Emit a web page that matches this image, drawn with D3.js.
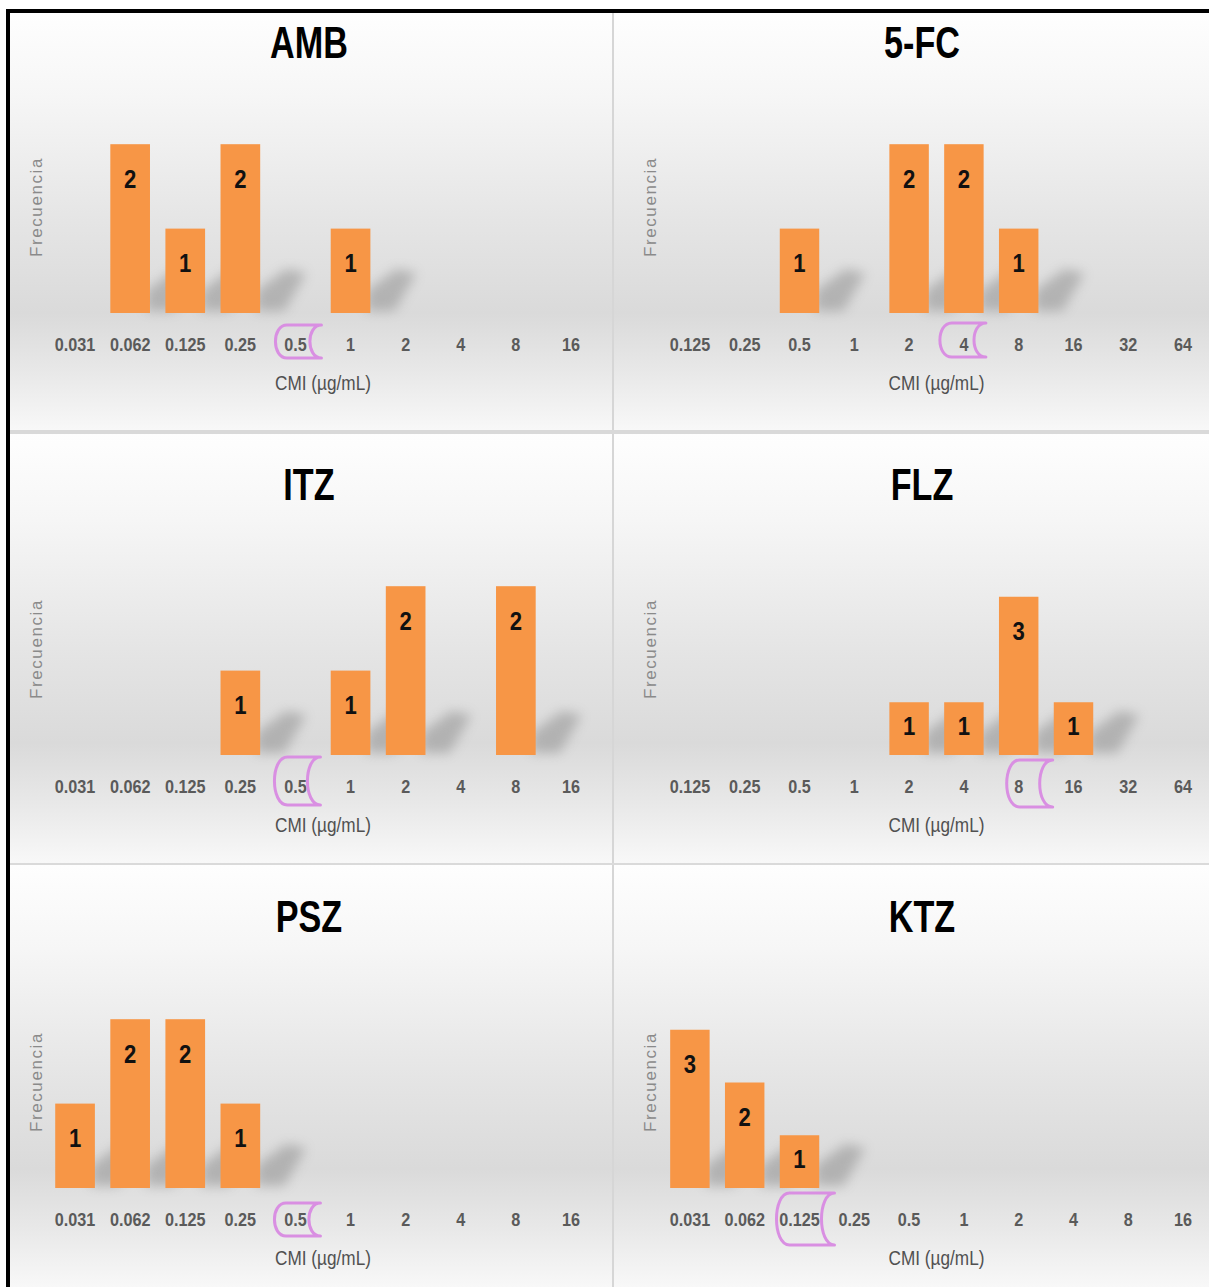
<!DOCTYPE html>
<html><head><meta charset="utf-8">
<script src="https://cdn.jsdelivr.net/npm/d3@7"></script>
<style>body{margin:0;background:#fff}svg{display:block}</style>
</head><body>
<svg id="c" width="1209" height="1287"></svg>
<script>
// ---------- data ----------
const panelTitles = ["AMB", "5-FC", "ITZ", "FLZ", "PSZ", "KTZ"];
const catsLow  = ["0.031","0.062","0.125","0.25","0.5","1","2","4","8","16"];
const catsHigh = ["0.125","0.25","0.5","1","2","4","8","16","32","64"];
const panelCats = [catsLow, catsHigh, catsLow, catsHigh, catsLow, catsLow];
const ambCounts = [0,2,1,2,0,1,0,0,0,0];
const fcCounts  = [0,0,1,0,2,2,1,0,0,0];
const itzCounts = [0,0,0,1,0,1,2,0,2,0];
const flzCounts = [0,0,0,0,1,1,3,1,0,0];
const pszCounts = [1,2,2,1,0,0,0,0,0,0];
const ktzCounts = [3,2,1,0,0,0,0,0,0,0];
const panelCounts = [ambCounts, fcCounts, itzCounts, flzCounts, pszCounts, ktzCounts];
const breakpoints = ["0.5","4","0.5","8","0.5","0.125"];
const yMaxes = [2.5, 2.5, 2.5, 4, 2.5, 4];
const xAxisTitle = "CMI (µg/mL)";
const yAxisTitle = "Frecuencia";

// ---------- layout / style ----------
const W = 1209, H = 1287;
const svg = d3.select("#c");
const defs = svg.append("defs");
const grad = defs.append("linearGradient").attr("id","bg").attr("x1",0).attr("y1",0).attr("x2",0).attr("y2",1);
[[0,"#fefefe"],[0.2,"#f6f6f6"],[0.5,"#e5e5e5"],[0.72,"#dadada"],[0.86,"#e8e8e8"],[1,"#f8f8f8"]]
  .forEach(([o,c]) => grad.append("stop").attr("offset",o).attr("stop-color",c));
defs.append("filter").attr("id","blur").attr("x","-60%").attr("y","-60%").attr("width","220%").attr("height","220%")
  .append("feGaussianBlur").attr("stdDeviation",6);

const cols = [{x0:10, x1:612, r0:47.5, r1:598.5, title:309, fre:36},
              {x0:614, x1:1209, r0:662.5, r1:1210.5, title:922, fre:650}];
const rows = [{y0:13, y1:430, base:313, title:42},
              {y0:434, y1:863, base:755, title:484},
              {y0:865, y1:1287, base:1188, title:916}];
const plotH = 211;
const brackets = [ // [width, top offset from baseline, height, x shift from category centre]
  [46, 12, 33, 3],[46, 10, 34, -1],[46, 2, 48, 2],[46, 5, 47, 11],[46, 15, 33, 2],[58, 5, 52, 6]];
const barColor = "#f79646";
const font = "'Liberation Sans', Arial, sans-serif";

svg.append("rect").attr("width",W).attr("height",H).attr("fill","#fff");

panelTitles.forEach((title, i) => {
  const col = cols[i % 2], row = rows[Math.floor(i / 2)];
  const g = svg.append("g");
  g.append("rect").attr("x",col.x0).attr("y",row.y0).attr("width",col.x1-col.x0).attr("height",row.y1-row.y0)
    .attr("fill","url(#bg)");

  const cats = panelCats[i];
  const x = d3.scaleBand().domain(cats).range([col.r0, col.r1]).paddingInner(0.28).paddingOuter(0.14);
  const y = d3.scaleLinear().domain([0, yMaxes[i]]).range([row.base, row.base - plotH]);
  const data = cats.map((c, k) => ({cat:c, v:panelCounts[i][k]})).filter(d => d.v > 0);

  // soft perspective shadows
  g.selectAll("path.sh").data(data).join("path").attr("class","sh")
    .attr("d", d => {
      const xr = x(d.cat) + x.bandwidth(), b = y(0);
      return `M${xr-4},${b-2} L${xr-4},${b-22} L${xr+26},${b-44} L${xr+46},${b-40} L${xr+24},${b-2} Z`;
    })
    .attr("fill","#7a7a7a").attr("opacity",0.42).attr("filter","url(#blur)");

  // bars
  g.selectAll("rect.bar").data(data).join("rect").attr("class","bar")
    .attr("x", d => x(d.cat)).attr("width", x.bandwidth())
    .attr("y", d => y(d.v)).attr("height", d => y(0) - y(d.v))
    .attr("fill", barColor);

  // value labels
  g.selectAll("text.val").data(data).join("text").attr("class","val")
    .attr("transform", d => {
      const h = y(0) - y(d.v);
      return `translate(${x(d.cat) + x.bandwidth()/2},${y(d.v) + Math.min(34, h*0.44)}) scale(0.85,1)`;
    })
    .attr("dy","0.36em").attr("text-anchor","middle")
    .attr("font-family",font).attr("font-weight","bold").attr("font-size",26).attr("fill","#111")
    .text(d => d.v);

  // x axis tick labels (no line)
  const axis = d3.axisBottom(x).tickSize(0).tickPadding(0);
  const ax = g.append("g").attr("transform",`translate(0,${row.base + 32})`).call(axis);
  ax.select(".domain").remove();
  ax.selectAll("text").attr("font-family",font).attr("font-weight","bold").attr("font-size",18)
    .attr("fill","#5a5a5a").attr("dy","0.35em").attr("y",0)
    .attr("transform","scale(0.9,1)");

  // breakpoint bracket (flowchart "stored data" shape)
  const [bw, bt, bh, bs] = brackets[i];
  const cx = x(breakpoints[i]) + x.bandwidth()/2 + bs;
  const x0 = cx - bw/2, x1 = cx + bw/2, y0 = row.base + bt, y1 = y0 + bh;
  const r = Math.min(13, bh*0.35);
  g.append("path")
    .attr("d", `M${x0+r},${y0} L${x1},${y0} C${x1-4*r/3},${y0} ${x1-4*r/3},${y1} ${x1},${y1} L${x0+r},${y1} C${x0-r/3},${y1} ${x0-r/3},${y0} ${x0+r},${y0} Z`)
    .attr("fill","none").attr("stroke","#d98fe2").attr("stroke-width",3).attr("stroke-linejoin","round");

  // x-axis title
  g.append("text").attr("transform",`translate(${(col.r0+col.r1)/2},${row.base + 70}) scale(0.86,1)`)
    .attr("text-anchor","middle").attr("dy","0.35em")
    .attr("font-family",font).attr("font-size",20).attr("fill","#505050").text(xAxisTitle);

  // y-axis title
  g.append("text").attr("transform",`translate(${col.fre},${row.base - 106}) rotate(-90)`)
    .attr("text-anchor","middle").attr("dy","0.35em").attr("letter-spacing",1.6)
    .attr("font-family",font).attr("font-size",17).attr("fill","#8a8a8a").text(yAxisTitle);

  // panel title
  g.append("text").attr("transform",`translate(${col.title},${row.title}) scale(0.76,1)`)
    .attr("text-anchor","middle").attr("dy","0.36em")
    .attr("font-family",font).attr("font-weight","bold").attr("font-size",45).attr("fill","#000").text(title);
});

// dividers
svg.append("rect").attr("x",612).attr("y",13).attr("width",2).attr("height",H-13).attr("fill","#d6d6d6");
svg.append("rect").attr("x",10).attr("y",430).attr("width",W-10).attr("height",4).attr("fill","#d9d9d9");
svg.append("rect").attr("x",10).attr("y",863).attr("width",W-10).attr("height",2).attr("fill","#dadada");
// outer frame
svg.append("rect").attr("x",6).attr("y",9).attr("width",W-6).attr("height",4).attr("fill","#000");
svg.append("rect").attr("x",6).attr("y",9).attr("width",4).attr("height",H-9).attr("fill","#000");
</script>
</body></html>
